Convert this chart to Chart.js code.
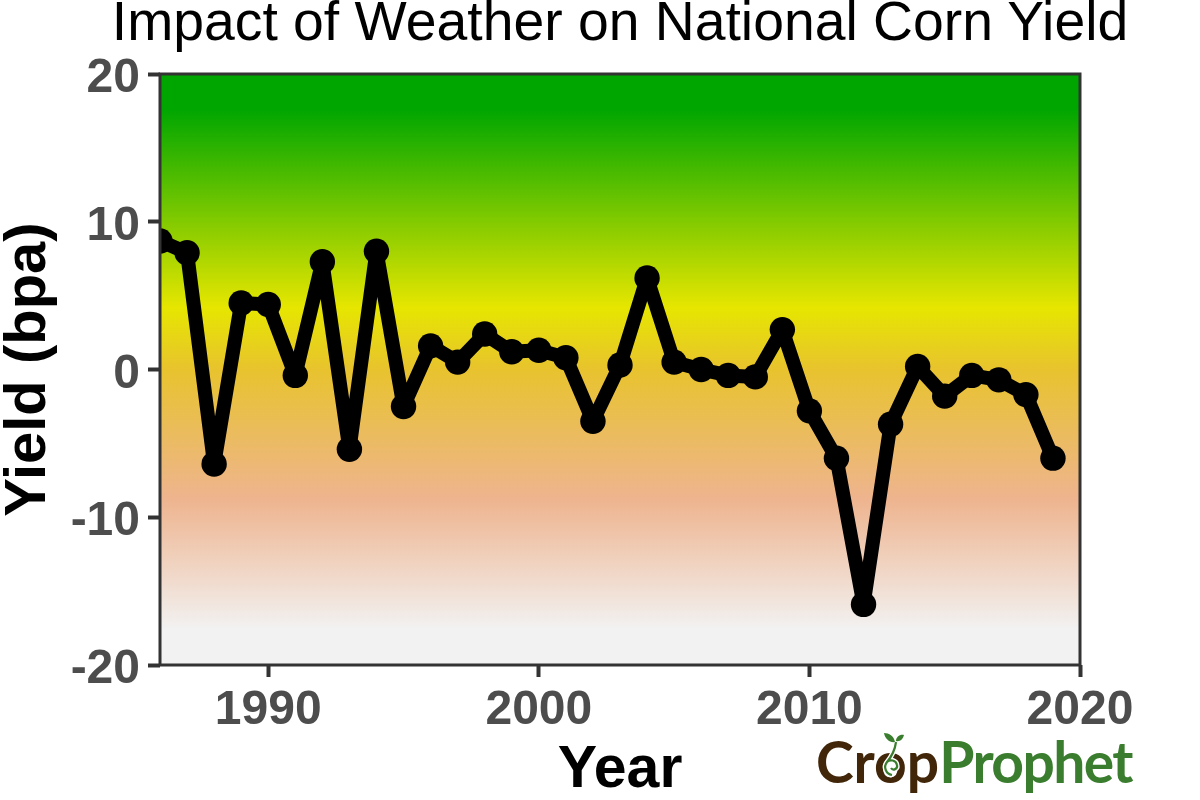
<!DOCTYPE html>
<html>
<head>
<meta charset="utf-8">
<title>Impact of Weather on National Corn Yield</title>
<script src="https://cdn.jsdelivr.net/npm/chart.js@4"></script>
<style>
    html, body { margin: 0; padding: 0; background: #fff; }
    #wrap { position: relative; width: 1200px; height: 800px; overflow: hidden; }
    #chartTitle { position: absolute; left: 0; top: -9px; width: 1240px; text-align: center; font: 400 55.3px "Liberation Sans", sans-serif; line-height: 60px; color: #000; white-space: nowrap; }
    #logo { position: absolute; left: 816px; top: 726px; font: 700 57px Lato, sans-serif; line-height: 70px; white-space: nowrap; color: #3a7d2e; letter-spacing: -1.6px; }
    #logo b { color: #42260a; font-weight: 700; letter-spacing: 0; }
    #sprout { position: absolute; left: 878px; top: 728px; }
</style>
</head>
<body>
<div id="wrap">
    <canvas id="yieldChart" width="1200" height="800"></canvas>
    <div id="chartTitle"></div>
    <div id="logo"><b>Crop</b>Prophet</div>
    <svg id="sprout" width="36" height="54" viewBox="0 0 36 54">
        <path d="M14 47c-6-1-9-8-5-13 3-3 9-2 10 3 1 4-4 6-6 3M9 34c5-6 8-12 9-20" fill="none" stroke="#fff" stroke-width="5"/>
        <path d="M14 47c-6-1-9-8-5-13 3-3 9-2 10 3 1 4-4 6-6 3M9 34c5-6 8-12 9-20" fill="none" stroke="#3a7d2e" stroke-width="2.2"/>
        <path d="M6 5c5 0 10 3 11 9-5 1-10-3-11-9zM26 7c-4-1-8 2-8 6 4 1 7-2 8-6z" fill="#3a7d2e"/>
    </svg>
</div>
<script>
const years = [1986, 1987, 1988, 1989, 1990, 1991, 1992, 1993, 1994, 1995, 1996, 1997, 1998, 1999, 2000, 2001, 2002,
    2003, 2004, 2005, 2006, 2007, 2008, 2009, 2010, 2011, 2012, 2013, 2014, 2015, 2016, 2017, 2018, 2019];
const yieldBpa = [8.7, 7.9, -6.4, 4.5, 4.4, -0.4, 7.3, -5.4, 8.0, -2.5, 1.6, 0.5, 2.4, 1.2, 1.3, 0.8, -3.5,
    0.3, 6.2, 0.5, 0.0, -0.4, -0.5, 2.7, -2.8, -6.0, -15.9, -3.7, 0.2, -1.8, -0.4, -0.7, -1.7, -6.0];
const xTickLabels = [1990, 2000, 2010, 2020];
const yTickLabels = [-20, -10, 0, 10, 20];

const titleText = 'Impact of Weather on National Corn Yield';
document.getElementById('chartTitle').textContent = titleText;

// vertical background, same stops as the terrain palette
const panelGradient = {
    id: 'panelGradient',
    beforeDraw(chart) {
        const { ctx, chartArea: a } = chart;
        const g = ctx.createLinearGradient(0, a.top, 0, a.bottom);
        g.addColorStop(0, '#00a600');
        g.addColorStop(0.06, '#00a600');
        g.addColorStop(0.395, '#e6e600');
        g.addColorStop(0.5, '#e8c32e');
        g.addColorStop(0.72, '#eeb48f');
        g.addColorStop(0.94, '#f2f2f2');
        g.addColorStop(1, '#f2f2f2');
        ctx.save();
        ctx.fillStyle = g;
        ctx.fillRect(a.left, a.top, a.right - a.left, a.bottom - a.top);
        ctx.restore();
    },
    afterDraw(chart) {
        const { ctx, chartArea: a } = chart;
        ctx.save();
        ctx.strokeStyle = '#333333';
        ctx.lineWidth = 3;
        ctx.strokeRect(a.left, a.top, a.right - a.left, a.bottom - a.top);
        ctx.restore();
    }
};

new Chart(document.getElementById('yieldChart').getContext('2d'), {
    type: 'line',
    plugins: [panelGradient],
    data: {
        datasets: [{
            data: years.map((y, i) => ({ x: y, y: yieldBpa[i] })),
            borderColor: '#000000',
            backgroundColor: '#000000',
            borderWidth: 14,
            borderJoinStyle: 'round',
            borderCapStyle: 'round',
            tension: 0,
            pointRadius: 12.7,
            pointBackgroundColor: '#000000',
            pointBorderWidth: 0
        }]
    },
    options: {
        responsive: false,
        animation: false,
        layout: { padding: { top: 74, right: 120, bottom: 0, left: 0 } },
        plugins: {
            legend: { display: false },
            tooltip: { enabled: false },
            title: { display: false }
        },
        scales: {
            x: {
                type: 'linear',
                min: 1986,
                max: 2020,
                afterBuildTicks(scale) { scale.ticks = xTickLabels.map(v => ({ value: v })); },
                afterFit(scale) { scale.height = 135; },
                grid: { drawOnChartArea: false, drawTicks: true, tickLength: 12, tickWidth: 4, tickColor: '#333333' },
                border: { display: false },
                ticks: {
                    maxRotation: 0,
                    autoSkip: false,
                    padding: 5,
                    color: '#4d4d4d',
                    font: { family: 'Liberation Sans', size: 48, weight: 'bold' },
                    callback: v => String(v)
                },
                title: {
                    display: true,
                    text: 'Year',
                    color: '#000000',
                    padding: { top: -6, bottom: -6 },
                    font: { family: 'Liberation Sans', size: 59, weight: 'bold' }
                }
            },
            y: {
                min: -20,
                max: 20,
                afterBuildTicks(scale) { scale.ticks = yTickLabels.map(v => ({ value: v })); },
                afterFit(scale) { scale.width = 160; },
                grid: { drawOnChartArea: false, drawTicks: true, tickLength: 12, tickWidth: 4, tickColor: '#333333' },
                border: { display: false },
                ticks: {
                    autoSkip: false,
                    padding: 8,
                    labelOffset: 5,
                    color: '#4d4d4d',
                    font: { family: 'Liberation Sans', size: 48, weight: 'bold' },
                    callback: v => String(v)
                },
                title: {
                    display: true,
                    text: 'Yield (bpa)',
                    color: '#000000',
                    padding: { top: -6, bottom: -6 },
                    font: { family: 'Liberation Sans', size: 58, weight: 'bold' }
                }
            }
        }
    }
});
</script>
</body>
</html>
